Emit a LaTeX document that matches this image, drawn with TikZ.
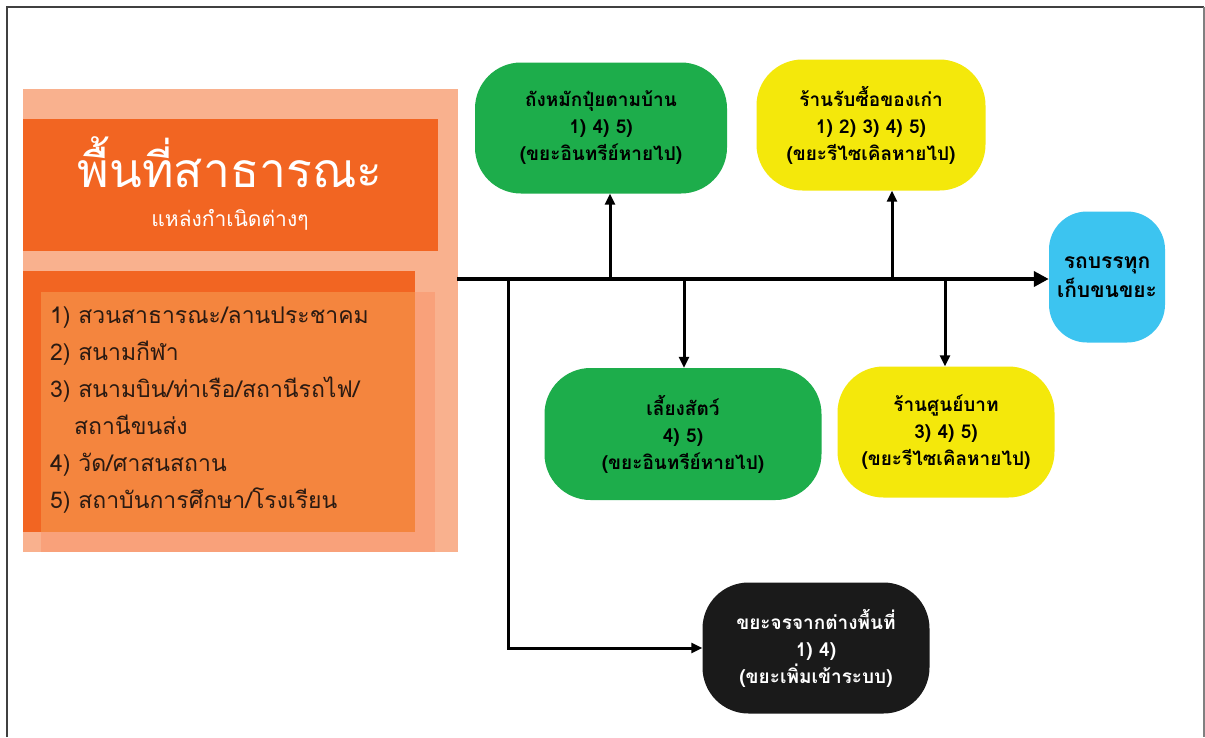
\documentclass[tikz,border=0pt]{standalone}
\usepackage{fontspec}
\newfontfamily\thai[Script=Thai]{Loma}
\usetikzlibrary{arrows.meta}
\definecolor{peach}{HTML}{F9B18E}
\definecolor{dorange}{HTML}{F26522}
\definecolor{morange}{HTML}{F4853E}
\definecolor{band}{HTML}{F9A17A}
\definecolor{gbox}{HTML}{1DAD4B}
\definecolor{ybox}{HTML}{F4E80B}
\definecolor{bbox}{HTML}{3CC4F0}
\definecolor{kbox}{HTML}{1A1A1A}
\definecolor{ltext}{HTML}{2A1A12}
\tikzset{
  flowbox/.style={rounded corners=46pt, align=center, inner sep=0pt,
    font=\thai\bfseries\fontsize{19}{27}\selectfont},
  mainline/.style={line width=4pt, -{Triangle[length=15pt,width=15pt]}},
  branch/.style={line width=3pt, -{Triangle[length=11pt,width=10pt]}},
}
\begin{document}
\begin{tikzpicture}[x=1pt,y=-1pt]
\useasboundingbox (0,0) rectangle (1205,737);
\fill[white] (0,0) rectangle (1205,737);
\draw[line width=1.5pt, color=black!75] (7,737) -- (7,7) -- (1204,7);
\draw[line width=1.5pt, color=black!50] (1204,7) -- (1204,737);
% left panel
\node[fill=peach, minimum width=435pt, minimum height=463pt, inner sep=0pt, anchor=north west] (src) at (23,89) {};
\fill[dorange] (23,119) rectangle (438,251);
\fill[dorange] (23,271) rectangle (415,532);
\fill[band] (41,292) rectangle (435,552);
\fill[morange] (41,292) rectangle (415,532);
\node[text=white, font=\thai\fontsize{48}{48}\selectfont] (title) at (230,162) {พื้นที่สาธารณะ};
\node[text=white, font=\thai\fontsize{21}{24}\selectfont] (sub) at (230,220) {แหล่งกำเนิดต่างๆ};
\node[text=ltext, anchor=north west, align=left, inner sep=0pt,
  font=\thai\fontsize{23}{37}\selectfont] (list) at (50,307)
  {1) สวนสาธารณะ/ลานประชาคม\\
   2) สนามกีฬา\\
   3) สนามบิน/ท่าเรือ/สถานีรถไฟ/\\
   \hspace*{24pt}สถานีขนส่ง\\
   4) วัด/ศาสนสถาน\\
   5) สถาบันการศึกษา/โรงเรียน};
% boxes
\node[flowbox, fill=gbox, minimum width=252pt, minimum height=131pt] (comp) at (601,128)
  {ถังหมักปุ๋ยตามบ้าน\\1) 4) 5)\\(ขยะอินทรีย์หายไป)};
\node[flowbox, fill=ybox, minimum width=229pt, minimum height=131pt] (buy) at (871,125)
  {ร้านรับซื้อของเก่า\\1) 2) 3) 4) 5)\\(ขยะรีไซเคิลหายไป)};
\node[flowbox, fill=bbox, rounded corners=38pt, minimum width=116pt, minimum height=131pt,
  font=\thai\bfseries\fontsize{21}{29}\selectfont] (truck) at (1107,277)
  {รถบรรทุก\\เก็บขนขยะ};
\node[flowbox, fill=gbox, minimum width=277pt, minimum height=132pt] (feed) at (683,434)
  {เลี้ยงสัตว์\\4) 5)\\(ขยะอินทรีย์หายไป)};
\node[flowbox, fill=ybox, minimum width=217pt, minimum height=131pt] (zero) at (946,432)
  {ร้านศูนย์บาท\\3) 4) 5)\\(ขยะรีไซเคิลหายไป)};
\node[flowbox, fill=kbox, text=white, minimum width=227pt, minimum height=131pt] (stray) at (816,648)
  {ขยะจรจากต่างพื้นที่\\1) 4)\\(ขยะเพิ่มเข้าระบบ)};
% connectors
\coordinate (j0) at (457,279);
\coordinate (ja) at (508,279);
\coordinate (jb) at (610,279);
\coordinate (jc) at (684,279);
\coordinate (jd) at (892,279);
\coordinate (je) at (945,279);
\draw[mainline] (j0) -- (j0 -| truck.west);
\draw[branch] (jb) -- (jb |- comp.south);
\draw[branch] (jd) -- (jd |- buy.south);
\draw[branch] (jc) -- (jc |- feed.north);
\draw[branch] (je) -- (je |- zero.north);
\draw[branch] (ja) -- (ja |- stray.west) -- (stray.west);
\end{tikzpicture}
\end{document}
